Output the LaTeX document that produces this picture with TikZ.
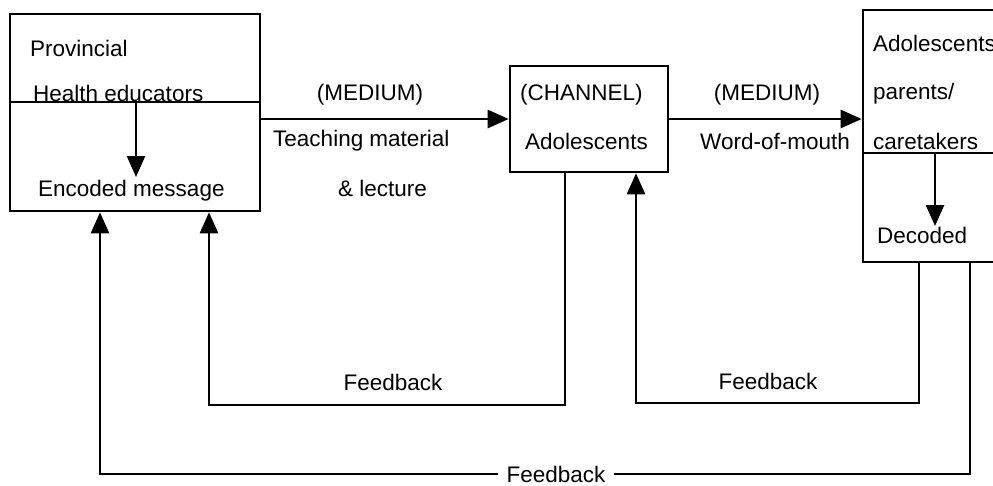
\documentclass[tikz,border=0pt]{standalone}
\usepackage{fontspec}
\setmainfont{Liberation Sans}
\usetikzlibrary{arrows.meta}
\begin{document}
\begin{tikzpicture}[x=1pt,y=-1pt,
  box/.style={draw, line width=2.6pt, rectangle, inner sep=0pt},
  wire/.style={line width=2.6pt},
  arr/.style={line width=2.6pt, -{Triangle[width=18pt,length=21pt]}},
  txt/.style={font=\fontsize{22.5}{27}\selectfont, inner sep=0pt, anchor=west},
  ctxt/.style={font=\fontsize{22.5}{27}\selectfont, inner sep=0pt},
]
\useasboundingbox (0,0) rectangle (993,485);

% boxes
\node[box, minimum width=250pt, minimum height=197pt] (src) at (135,112.5) {};
\node[box, minimum width=158pt, minimum height=106pt] (chan) at (589,119) {};
\node[box, minimum width=160pt, minimum height=252pt] (dst) at (943,136) {};

% dividers inside the source and destination boxes
\coordinate (d1) at (0,102);
\coordinate (d2) at (0,153);
\draw[wire] (src.west |- d1) -- (src.east |- d1);
\draw[wire] (dst.west |- d2) -- (dst.east |- d2);

% texts in the source box
\node[txt] (prov) at (30,48) {Provincial};
\node[txt] (hedu) at (33,93) {Health educators};
\node[txt] (enc) at (38,191) {Encoded message};

% texts in the channel box
\node[txt] (chlab) at (520,95) {(CHANNEL)};
\node[txt] (adol) at (525,141) {Adolescents};

% texts in the destination box
\node[txt] (adol2) at (873,43) {Adolescents};
\node[txt] (par) at (873,94) {parents/};
\node[txt] (care) at (873,141) {caretakers};
\node[txt] (dec) at (877,235) {Decoded};

% medium labels
\node[ctxt] (med1) at (370,95) {(MEDIUM)};
\node[txt] (teach) at (273,141) {Teaching material};
\node[txt] (lect) at (338,188) {\& lecture};
\node[ctxt] (med2) at (767,95) {(MEDIUM)};
\node[txt] (wom) at (700,141) {Word-of-mouth};

% main flow
\draw[arr] (src.east |- chan.west) -- (chan.west);
\draw[arr] (chan.east) -- (dst.west |- chan.east);

% encode / decode arrows
\coordinate (e1) at (136,177);
\coordinate (e2) at (935,226);
\draw[arr] (e1 |- d1) -- (e1);
\draw[arr] (e2 |- d2) -- (e2);

% feedback from the channel to the source
\coordinate (f1r) at (565,405);
\coordinate (f1l) at (209,405);
\draw[arr] (chan.south -| f1r) -- (f1r) -- (f1l) -- (src.south -| f1l);
\node[ctxt] (fb1) at (393,382) {Feedback};

% feedback from the destination to the channel
\coordinate (f2r) at (919,403);
\coordinate (f2l) at (636,403);
\draw[arr] (dst.south -| f2r) -- (f2r) -- (f2l) -- (chan.south -| f2l);
\node[ctxt] (fb2) at (768,381) {Feedback};

% feedback from the destination to the source
\coordinate (f3r) at (970,474);
\coordinate (f3l) at (100,474);
\node[ctxt, inner xsep=8pt] (fb3) at (556,474) {Feedback};
\draw[wire] (dst.south -| f3r) -- (f3r) -- (fb3.east);
\draw[arr] (fb3.west) -- (f3l) -- (src.south -| f3l);
\end{tikzpicture}
\end{document}
